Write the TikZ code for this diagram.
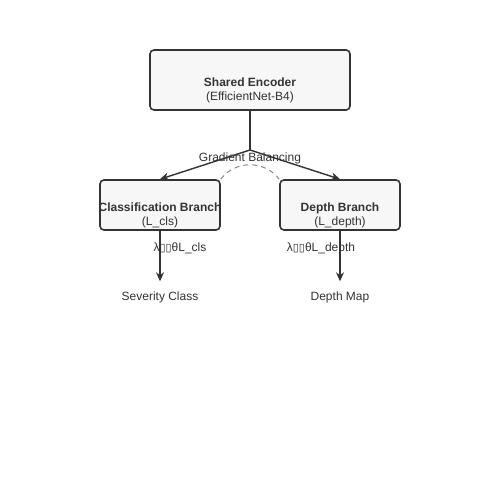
\documentclass[tikz,border=0pt]{standalone}
\usepackage{fontspec}
\setmainfont{Liberation Sans}
\newfontfamily\boxglyphs{DejaVu Sans}
\usetikzlibrary{arrows.meta}
\definecolor{ink}{HTML}{333333}
\definecolor{boxfill}{HTML}{F7F7F7}
\definecolor{dashgray}{HTML}{888888}

\begin{document}
\begin{tikzpicture}[x=1pt,y=-1pt,>={Stealth[length=9pt,width=8pt]},
  every node/.style={font=\fontsize{12}{14}\selectfont,text=ink},
  block/.style={draw=ink,line width=1.6pt,fill=boxfill,rounded corners=4pt,inner sep=0pt},
  flow/.style={draw=ink,line width=1.4pt},
  out node/.style={text height=8pt,text depth=3pt,inner xsep=2pt,inner ysep=11pt}]

  \useasboundingbox[fill=white] (0,0) rectangle (500,500);

  % boxes
  \node[block,minimum width=200pt,minimum height=60pt] (enc) at (250,80) {};
  \node[block,minimum width=120pt,minimum height=50pt] (cls) at (160,205) {};
  \node[block,minimum width=120pt,minimum height=50pt] (dep) at (340,205) {};

  % box texts
  \node[align=center,inner sep=0pt] (enct) at (250,90) {\textbf{Shared Encoder}\\(EfficientNet-B4)};
  \node[align=center,inner sep=0pt] (clst) at (160,215) {\textbf{Classification Branch}\\(L\_cls)};
  \node[align=center,inner sep=0pt] (dept) at (340,215) {\textbf{Depth Branch}\\(L\_depth)};

  % split
  \coordinate (split) at (250,150);
  \draw[flow] (enc.south) -- (split);
  \draw[flow,->] (split) -- (cls.north);
  \draw[flow,->] (split) -- (dep.north);
  \node (grad) at (250,158) {Gradient Balancing};
  \draw[dashgray,line width=1pt,dash pattern=on 5pt off 4pt]
    (cls.north east) .. controls (235,160) and (265,160) .. (dep.north west);

  % outputs
  \node[out node] (sev) at (160,298) {Severity Class};
  \node[out node] (map) at (340,298) {Depth Map};
  \draw[flow,->] (cls.south) -- (sev.north);
  \draw[flow,->] (dep.south) -- (map.north);
  \node (gcls) at (180,248) {λ{\boxglyphs\fontsize{11}{12}\selectfont ▯▯}θL\_cls};
  \node (gdep) at (321,248) {λ{\boxglyphs\fontsize{11}{12}\selectfont ▯▯}θL\_depth};

\end{tikzpicture}
\end{document}
